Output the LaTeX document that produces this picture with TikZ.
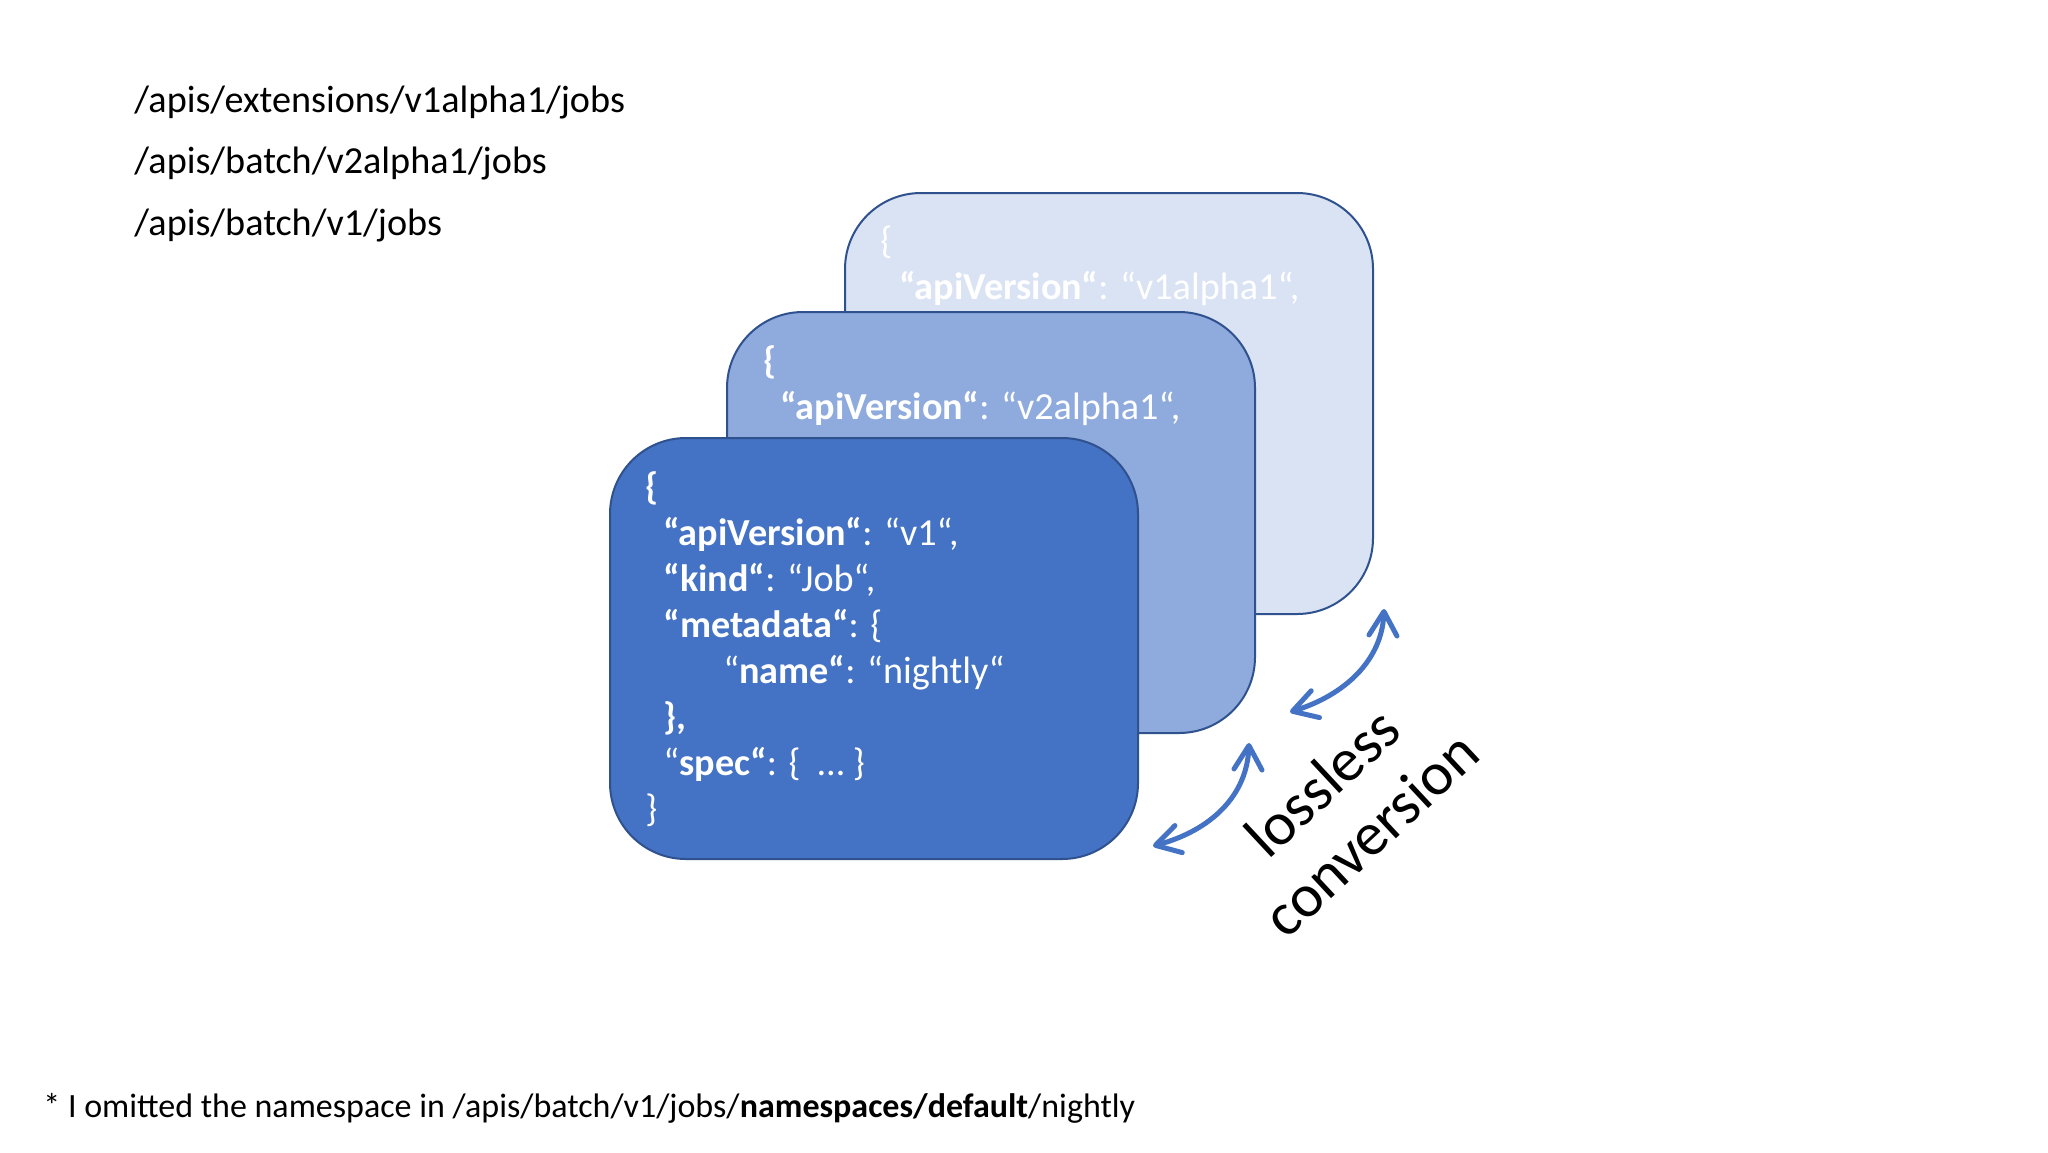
\documentclass[tikz,border=0pt]{standalone}
\usepackage{fontspec}
\setmainfont{Carlito}
\usetikzlibrary{arrows.meta}
\definecolor{frontblue}{HTML}{4472C4}
\definecolor{midblue}{HTML}{8FAADC}
\definecolor{backblue}{HTML}{DAE3F3}
\definecolor{edgeblue}{HTML}{2F528F}
\newcommand\pathfont{\fontsize{19.1}{23}\selectfont}
\newcommand\jsonfont{\fontsize{19.1}{23}\selectfont}
\newcommand\notefont{\fontsize{17}{21}\selectfont}
\newcommand\convfont{\fontsize{30.5}{35.5}\selectfont}
\tikzset{
  card/.style={draw=edgeblue, line width=1pt, rounded corners=38pt, anchor=north west,
    minimum width=264pt, minimum height=210.5pt, inner sep=0pt},
  pathtext/.style={anchor=base west, inner sep=0pt, font=\pathfont, text=black},
  jsontext/.style={anchor=base west, inner sep=0pt, font=\jsonfont, text=white},
  conv/.style={draw=frontblue, line width=2.5pt, line cap=round,
    {Straight Barb[length=12pt,width=14pt,line cap=round,line join=round]}-{Straight Barb[length=12pt,width=14pt,line cap=round,line join=round]}},
}
\begin{document}
\begin{tikzpicture}[x=0.5pt,y=-0.5pt]
\path[use as bounding box, fill=white] (0,0) rectangle (2048,1152);

% left path list
\node[pathtext] (p1) at (134,112) {/apis/extensions/v1alpha1/jobs};
\node[pathtext] (p2) at (134,173) {/apis/batch/v2alpha1/jobs};
\node[pathtext] (p3) at (134,235) {/apis/batch/v1/jobs};

% back card
\node[card, fill=backblue] (back) at (844,192) {};
\node[jsontext] (b0) at (880,253) {\{};
\node[jsontext] (b1) at (899,299) {\textbf{“apiVersion“}: “v1alpha1“,};

% middle card
\node[card, fill=midblue] (mid) at (726,311) {};
\node[jsontext] (m0) at (763,373) {\textbf{\{}};
\node[jsontext] (m1) at (780,419) {\textbf{“apiVersion“}: “v2alpha1“,};

% front card
\node[card, fill=frontblue] (front) at (609,437) {};
\node[jsontext] (f0) at (645,499) {\textbf{\{}};
\node[jsontext] (f1) at (663,545) {\textbf{“apiVersion“}: “v1“,};
\node[jsontext] (f2) at (663,591) {\textbf{“kind“}: “Job“,};
\node[jsontext] (f3) at (663,637) {\textbf{“metadata“}: \{};
\node[jsontext] (f4) at (723,683) {“\textbf{name“}: “nightly“};
\node[jsontext] (f5) at (663,729) {\textbf{\},}};
\node[jsontext] (f6) at (663,775) {“\textbf{spec“}: \{~~…~\}};
\node[jsontext] (f7) at (645,821) {\}};

% conversion arrows
\coordinate (a1s) at (1153,846);
\coordinate (a1e) at (1249,743);
\coordinate (a2s) at (1290,712);
\coordinate (a2e) at (1384,609);
\draw[conv] (a1s) .. controls (1212,830) and (1247,795) .. (a1e);
\draw[conv] (a2s) .. controls (1345,695) and (1382,660) .. (a2e);

\node[rotate=43, align=center, font=\convfont, inner sep=0pt] (lbl) at (1346,808) {lossless\\conversion};

% footnote
\node[anchor=base west, inner sep=0pt, font=\notefont] (note) at (43,1117)
  {* I omitted the namespace in /apis/batch/v1/jobs/\textbf{namespaces/default}/nightly};
\end{tikzpicture}
\end{document}
